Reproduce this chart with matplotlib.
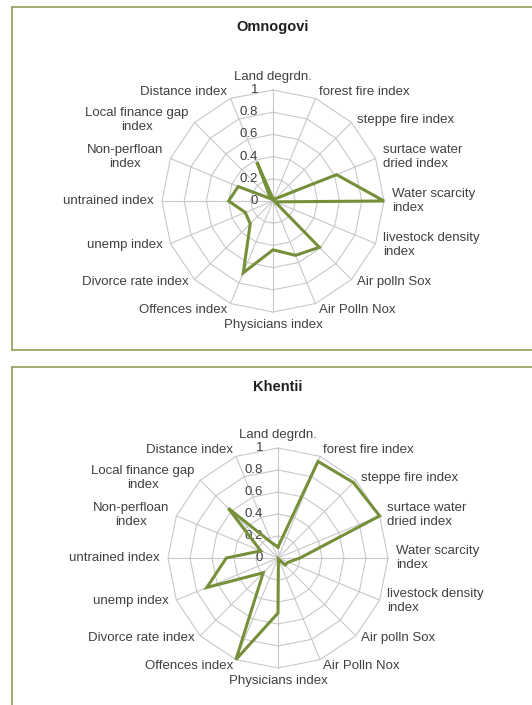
import numpy as np
import matplotlib
matplotlib.use("Agg")
import matplotlib.pyplot as plt

plt.rcParams['font.family'] = ['Liberation Sans', 'DejaVu Sans']

categories = ["Land degrdn.", "forest fire index", "steppe fire index",
              "surtace water\ndried index", "Water scarcity\nindex",
              "livestock density\nindex", "Air polln Sox", "Air Polln Nox",
              "Physicians index", "Offences index", "Divorce rate index",
              "unemp index", "untrained index", "Non-perfloan\nindex",
              "Local finance gap\nindex", "Distance index"]

omnogovi = [0.02, 0.02, 0.03, 0.62, 1.0, 0.02, 0.59, 0.53,
            0.44, 0.70, 0.29, 0.27, 0.40, 0.34, 0.03, 0.38]
khentii = [0.10, 0.95, 0.97, 1.0, 0.20, 0.10, 0.09, 0.01,
           0.50, 1.0, 0.19, 0.70, 0.47, 0.17, 0.64, 0.15]

ticks = [0, 0.2, 0.4, 0.6, 0.8, 1.0]
tick_labels = ["0", "0.2", "0.4", "0.6", "0.8", "1"]

W, H = 532, 705
LINE = '#76903a'
GRID = '#c8c8c8'
BORDER = '#9ca46a'
TXT = '#404040'


def draw_radar(title, values, box_top, box_bottom, cx, cy, R, show_bottom=True):
    # axes covers the bordered box, data units = radar radius
    left = 12
    ax = fig.add_axes([left / W, 1 - box_bottom / H, (W - left) / W, (box_bottom - box_top) / H])
    ax.set_xlim((left - cx) / R, (W - cx) / R)
    ax.set_ylim(-(box_bottom - cy) / R, (cy - box_top) / R)
    ax.set_xticks([])
    ax.set_yticks([])
    for s in ax.spines.values():
        s.set_color(BORDER)
        s.set_linewidth(1.3)
    ax.spines['right'].set_visible(False)
    if not show_bottom:
        ax.spines['bottom'].set_visible(False)

    n = len(categories)
    theta = np.arange(n) * 2 * np.pi / n
    sx, sy = np.sin(theta), np.cos(theta)

    # polygon rings and spokes
    for t in ticks[1:]:
        ax.plot(np.append(sx, sx[0]) * t, np.append(sy, sy[0]) * t, color=GRID, lw=0.8, zorder=1)
    for i in range(n):
        ax.plot([0, sx[i]], [0, sy[i]], color=GRID, lw=0.8, zorder=1)

    v = np.array(values)
    ax.plot(np.append(sx * v, sx[0] * v[0]), np.append(sy * v, sy[0] * v[0]),
            color=LINE, lw=2.2, zorder=3, solid_joinstyle='miter')

    for t, lab in zip(ticks, tick_labels):
        ax.text(-15 / R, t, lab, ha='right', va='center', fontsize=9.5, color=TXT, zorder=2)

    for i, lab in enumerate(categories):
        s, c = sx[i], sy[i]
        dx = 8 * s
        dy = 7 * c if abs(c) > 0.8 else 3 * c
        if s > 0.01:
            ha = 'left'
        elif s < -0.01:
            ha = 'right'
        else:
            ha = 'center'
        if c > 0.99:
            va = 'bottom'
        elif c < -0.99:
            va = 'top'
        else:
            va = 'center'
        ma = 'left' if ha == 'left' else 'center'
        ax.text(s + dx / R, c + dy / R, lab, ha=ha, va=va, multialignment=ma,
                fontsize=9.5, color=TXT, linespacing=1.2)

    ax.text(0, (cy - box_top - 20) / R, title, ha='center', va='center',
            fontsize=10.5, fontweight='bold', color='#202020')
    return ax


fig = plt.figure(figsize=(W / 100, H / 100), dpi=100)
draw_radar("Omnogovi", omnogovi, 7, 350, 273, 201, 111)
draw_radar("Khentii", khentii, 367, 710, 278, 558, 110, show_bottom=False)
fig.savefig("out.png", dpi=100)
